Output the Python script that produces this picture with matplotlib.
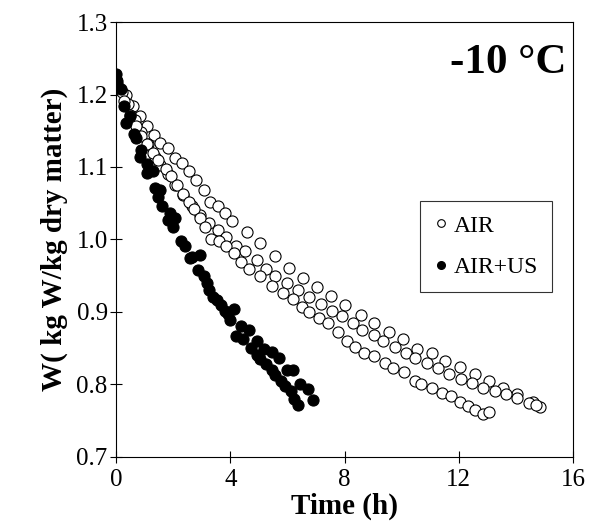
import matplotlib
matplotlib.use("Agg")
import matplotlib.pyplot as plt

plt.rcParams['font.family'] = ['Liberation Serif', 'DejaVu Serif']

# AIR replicate 1 (outer, sparse points)
air1_t = [0.36, 0.58, 0.85, 1.08, 1.32, 1.55, 1.81, 2.05, 2.3, 2.57, 2.8, 3.07, 3.3, 3.56, 3.82,
          4.06, 4.59, 5.03, 5.58, 6.05, 6.55, 7.04, 7.54, 8.03, 8.56, 9.02, 9.55, 10.05, 10.52,
          11.07, 11.53, 12.04, 12.57, 13.06, 13.56, 14.05, 14.58, 14.84]
air1_w = [1.199, 1.184, 1.17, 1.157, 1.144, 1.133, 1.126, 1.113, 1.106, 1.095, 1.082, 1.068, 1.052,
          1.046, 1.036, 1.025, 1.01, 0.995, 0.977, 0.96, 0.946, 0.934, 0.922, 0.91, 0.895, 0.885,
          0.872, 0.862, 0.848, 0.843, 0.832, 0.824, 0.814, 0.805, 0.795, 0.786, 0.775, 0.769]

# AIR replicate 2 (middle, ends at ~14.7 h)
air2_t = [0.0, 0.22, 0.42, 0.66, 0.89, 1.12, 1.35, 1.55, 1.81, 2.08, 2.34, 2.67, 2.94, 3.27, 3.57,
          3.86, 4.19, 4.52, 4.92, 5.25, 5.58, 5.98, 6.38, 6.77, 7.17, 7.57, 7.9, 8.29, 8.62, 9.02,
          9.35, 9.75, 10.15, 10.48, 10.87, 11.27, 11.67, 12.06, 12.46, 12.86, 13.25, 13.65,
          14.05, 14.44, 14.71]
air2_w = [1.222, 1.203, 1.187, 1.165, 1.148, 1.131, 1.114, 1.102, 1.09, 1.075, 1.061, 1.046, 1.034,
          1.022, 1.013, 1.003, 0.991, 0.984, 0.971, 0.959, 0.95, 0.94, 0.93, 0.921, 0.911, 0.901,
          0.894, 0.885, 0.875, 0.868, 0.86, 0.851, 0.843, 0.836, 0.829, 0.822, 0.814, 0.807, 0.802,
          0.795, 0.79, 0.786, 0.781, 0.774, 0.771]

# AIR replicate 3 (lower, ends at ~13 h)
air3_t = [0.05, 0.29, 0.49, 0.69, 0.89, 1.08, 1.28, 1.48, 1.75, 1.94, 2.14, 2.34, 2.54, 2.74, 2.94,
          3.13, 3.33, 3.6, 3.86, 4.13, 4.39, 4.66, 5.05, 5.45, 5.85, 6.18, 6.5, 6.77, 7.1, 7.43,
          7.76, 8.1, 8.36, 8.69, 9.02, 9.42, 9.68, 10.08, 10.48, 10.67, 11.07, 11.4, 11.73,
          12.04, 12.33, 12.57, 12.86, 13.06]
air3_w = [1.215, 1.191, 1.172, 1.157, 1.143, 1.131, 1.119, 1.109, 1.097, 1.087, 1.075, 1.063, 1.051,
          1.042, 1.029, 1.017, 1.0, 0.998, 0.991, 0.981, 0.969, 0.959, 0.95, 0.935, 0.926, 0.918,
          0.906, 0.899, 0.891, 0.885, 0.872, 0.86, 0.851, 0.843, 0.839, 0.829, 0.822, 0.817,
          0.805, 0.8, 0.795, 0.788, 0.783, 0.776, 0.77, 0.764, 0.759, 0.762]

# AIR+US replicate 1
us1_t = [0.0, 0.16, 0.36, 0.62, 0.85, 1.08, 1.35, 1.48, 1.61, 1.81, 2.01, 2.28, 2.6, 2.87, 3.07,
         3.27, 3.53, 3.8, 3.99, 4.2, 4.45, 4.72, 4.92, 5.05, 5.25, 5.45, 5.58, 5.78, 5.91, 6.11,
         6.24, 6.38]
us1_w = [1.228, 1.208, 1.16, 1.145, 1.114, 1.092, 1.071, 1.058, 1.046, 1.027, 1.017, 0.998, 0.974,
         0.957, 0.95, 0.93, 0.916, 0.901, 0.889, 0.866, 0.862, 0.85, 0.84, 0.835, 0.828, 0.82,
         0.812, 0.805, 0.798, 0.79, 0.78, 0.771]

# AIR+US replicate 2
us2_t = [0.05, 0.29, 0.49, 0.69, 0.89, 1.08, 1.28, 1.55, 1.88, 2.05, 2.4, 2.67, 2.94, 3.2, 3.4,
         3.66, 3.92, 4.13, 4.39, 4.66, 4.92, 5.19, 5.45, 5.71, 5.98, 6.18, 6.44, 6.71, 6.9]
us2_w = [1.218, 1.184, 1.17, 1.14, 1.124, 1.104, 1.095, 1.068, 1.037, 1.03, 0.991, 0.975, 0.979,
         0.94, 0.921, 0.91, 0.897, 0.904, 0.88, 0.875, 0.86, 0.848, 0.845, 0.836, 0.82, 0.82,
         0.8, 0.793, 0.778]

fig = plt.figure(figsize=(5.89, 5.26), dpi=100)
ax = fig.add_axes([0.197, 0.132, 0.776, 0.826])

ms = 8
for t, w in [(air1_t, air1_w), (air2_t, air2_w), (air3_t, air3_w)]:
    ax.plot(t, w, 'o', ms=ms, mfc='white', mec='black', mew=0.8, ls='none')
for t, w in [(us1_t, us1_w), (us2_t, us2_w)]:
    ax.plot(t, w, 'o', ms=ms, mfc='black', mec='black', mew=0.8, ls='none')

# legend handles
h1, = ax.plot([], [], 'o', ms=5.5, mfc='white', mec='black', mew=0.8, ls='none', label='AIR')
h2, = ax.plot([], [], 'o', ms=5.5, mfc='black', mec='black', ls='none', label='AIR+US')
leg = ax.legend(handles=[h1, h2], loc='center', bbox_to_anchor=(0.81, 0.483),
                fontsize=17, frameon=True, fancybox=False, edgecolor='black',
                handlelength=0.5, handletextpad=0.3, labelspacing=0.85, borderpad=0.6)
leg.get_frame().set_linewidth(0.8)

ax.text(0.985, 0.905, '-10 °C', transform=ax.transAxes, ha='right', va='center',
        fontsize=31, fontweight='bold')

ax.set_xlim(0, 16)
ax.set_ylim(0.7, 1.3)
ax.set_xticks([0, 4, 8, 12, 16])
ax.set_yticks([0.7, 0.8, 0.9, 1.0, 1.1, 1.2, 1.3])
ax.set_yticklabels(['0.7', '0.8', '0.9', '1.0', '1.1', '1.2', '1.3'])
ax.tick_params(direction='inout', length=8, width=0.8, labelsize=18, pad=2)
ax.tick_params(axis='x', pad=5)
for s in ax.spines.values():
    s.set_linewidth(0.8)

ax.set_xlabel('Time (h)', fontsize=21, fontweight='bold', labelpad=1)
ax.set_ylabel('W( kg W/kg dry matter)', fontsize=21, fontweight='bold', labelpad=6)

fig.savefig('out.png', dpi=100)
